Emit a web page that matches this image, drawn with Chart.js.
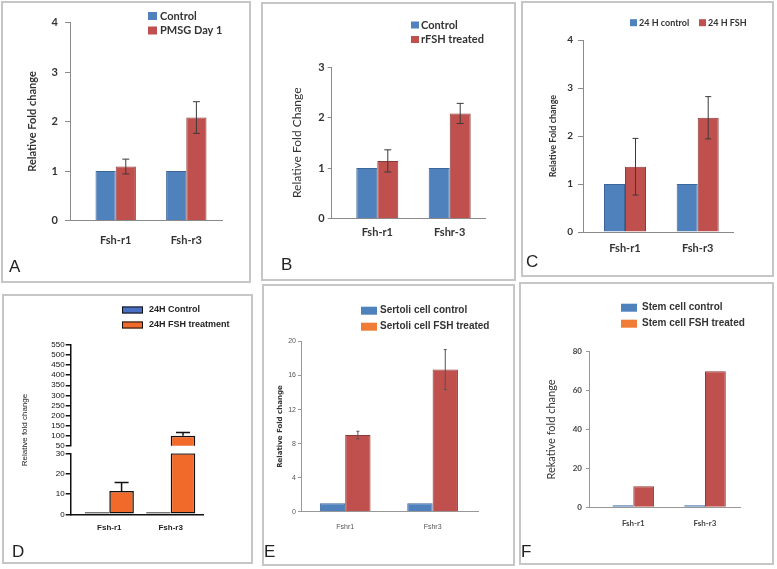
<!DOCTYPE html>
<html>
<head>
<meta charset="utf-8">
<title>Fsh-r1 / Fsh-r3 relative fold change</title>
<script src="https://cdn.jsdelivr.net/npm/chart.js@4.4.1/dist/chart.umd.min.js"></script>
<style>
  html, body { margin: 0; padding: 0; background: #fff; }
  body { position: relative; width: 777px; height: 569px; overflow: hidden; }
  .frame { position: absolute; box-sizing: border-box; border: 2px solid #c6c6c6; }
  canvas { position: absolute; left: 0; top: 0; }
</style>
</head>
<body>
<div class="frame" style="left:1px;top:1px;width:250px;height:282px"></div>
<div class="frame" style="left:261px;top:2px;width:255px;height:279px"></div>
<div class="frame" style="left:521px;top:1px;width:253px;height:276px"></div>
<div class="frame" style="left:2px;top:294px;width:251px;height:270px"></div>
<div class="frame" style="left:262px;top:284px;width:253px;height:282px"></div>
<div class="frame" style="left:519px;top:282px;width:255px;height:283px"></div>
<script>
// categories
const genes = ['Fsh-r1', 'Fsh-r3'];
const genesB = ['Fsh-r1', 'Fshr-3'];
const genesE = ['Fshr1', 'Fshr3'];

// A - PMSG day 1
const controlA = [1, 1];
const pmsgA = [1.09, 2.08];
const pmsgErrA = [0.15, 0.32];
const ticksA = [0, 1, 2, 3, 4];

// B - rFSH treated
const controlB = [1, 1];
const rfshB = [1.14, 2.08];
const rfshErrB = [0.22, 0.2];
const ticksB = [0, 1, 2, 3];

// C - 24 H
const controlC = [1, 1];
const fshC = [1.36, 2.38];
const fshErrC = [0.59, 0.44];
const ticksC = [0, 1, 2, 3, 4];

// D - 24H treatment (broken axis)
const controlD = [1, 1];
const fshD = [11.5, 100];
const fshErrD = [4.1, 15];
const ticksDHigh = [50, 100, 150, 200, 250, 300, 350, 400, 450, 500, 550];
const ticksDLow = [0, 10, 20, 30];

// E - Sertoli cells
const controlE = [1, 1];
const fshE = [9.0, 16.7];
const fshErrE = [0.45, 2.35];
const ticksE = [0, 4, 8, 12, 16, 20];

// F - stem cells
const controlF = [1, 1];
const fshF = [10.8, 70];
const ticksF = [0, 20, 40, 60, 80];

const W = 777, H = 569;
const BLUE = '#4f81bd', BLUE_EDGE = '#3b6698';
const RED = '#c0504d', RED_EDGE = '#8c3a38';
const ORANGE = '#f26a2a', ORANGE_LEG = '#f07c35';

const font = (family, size, weight) => ({ family, size, weight: weight || 'normal' });

function errorBars(cfg) {
  return {
    id: 'errorBars',
    afterDatasetsDraw(chart) {
      if (!cfg) return;
      const { ctx, chartArea: a, scales: { y } } = chart;
      ctx.save();
      ctx.beginPath();
      ctx.rect(a.left, a.top, a.right - a.left, a.bottom - a.top);
      ctx.clip();
      ctx.strokeStyle = cfg.color;
      ctx.lineWidth = cfg.width;
      chart.data.datasets.forEach((ds, di) => {
        if (!ds.errors) return;
        chart.getDatasetMeta(di).data.forEach((bar, i) => {
          const v = ds.values[i], e = ds.errors[i];
          const yTop = y.getPixelForValue(v + e);
          const yBot = y.getPixelForValue(cfg.upOnly ? v : v - e);
          const hw = cfg.cap / 2;
          ctx.beginPath();
          ctx.moveTo(bar.x, yTop); ctx.lineTo(bar.x, yBot);
          ctx.moveTo(bar.x - hw, yTop); ctx.lineTo(bar.x + hw, yTop);
          if (!cfg.upOnly) { ctx.moveTo(bar.x - hw, yBot); ctx.lineTo(bar.x + hw, yBot); }
          ctx.stroke();
        });
      });
      ctx.restore();
    }
  };
}

function extras(o) {
  return {
    id: 'extras',
    afterDraw(chart) {
      const ctx = chart.ctx;
      ctx.save();
      const L = o.legend;
      if (L) {
        ctx.font = L.font;
        ctx.textBaseline = 'middle';
        ctx.textAlign = 'left';
        chart.data.datasets.forEach((ds, i) => {
          const bx = L.xs ? L.xs[i] : L.x;
          const by = L.ys[i];
          ctx.fillStyle = ds.legendColor;
          ctx.fillRect(bx, by - L.h / 2, L.w, L.h);
          if (L.stroke) {
            ctx.strokeStyle = L.stroke;
            ctx.lineWidth = 1;
            ctx.strokeRect(bx + 0.5, by - L.h / 2 + 0.5, L.w - 1, L.h - 1);
          }
          ctx.fillStyle = L.color;
          ctx.fillText(ds.label, bx + L.w + L.gap, by);
        });
      }
      if (o.letter) {
        ctx.font = o.letter.font;
        ctx.fillStyle = '#222';
        ctx.textAlign = 'left';
        ctx.textBaseline = 'alphabetic';
        ctx.fillText(o.letter.text, o.letter.x, o.letter.y);
      }
      if (o.sideTitle) {
        const t = o.sideTitle;
        ctx.translate(t.x, t.y);
        ctx.rotate(-Math.PI / 2);
        ctx.font = t.font;
        ctx.fillStyle = t.color;
        ctx.textAlign = 'center';
        ctx.textBaseline = 'middle';
        ctx.fillText(t.text, 0, 0);
      }
      ctx.restore();
    }
  };
}

function barChart(o) {
  const cv = document.createElement('canvas');
  cv.width = W; cv.height = H;
  document.body.appendChild(cv);
  const p = o.plot;
  const unit = o.c1 - o.c0;
  const xMin = -(o.c0 - p.left) / unit;
  const xMax = 1 + (p.right - o.c1) / unit;
  const yMin = o.yTicks[0], yMax = o.yTicks[o.yTicks.length - 1];
  const xH = o.xLabels ? o.xHeight : 0;
  return new Chart(cv, {
    type: 'bar',
    data: {
      datasets: o.series.map(s => ({
        label: s.label,
        data: s.values.map((v, i) => ({ x: i, y: o.capAtMax ? Math.min(v, yMax) : v })),
        values: s.values,
        errors: s.errors,
        legendColor: s.legendColor || s.color,
        backgroundColor: s.color,
        borderColor: s.border,
        borderWidth: o.barBorder,
        borderSkipped: o.borderSkipped === undefined ? 'start' : o.borderSkipped,
        categoryPercentage: o.catPct,
        barPercentage: 1,
        clip: 0
      }))
    },
    options: {
      responsive: false,
      animation: false,
      events: [],
      layout: { padding: { left: o.yLeft, top: p.top, right: W - p.right, bottom: H - p.bottom - xH } },
      plugins: { legend: { display: false }, tooltip: { enabled: false } },
      scales: {
        x: {
          type: 'linear', min: xMin, max: xMax, bounds: 'data', offset: false,
          display: !!o.xLabels,
          afterBuildTicks: s => { s.ticks = (o.xLabels || []).map((_, i) => ({ value: i })); },
          afterFit: s => { s.height = xH; },
          grid: { display: false, drawTicks: false, offset: false },
          border: { display: true, color: o.axisColor, width: o.axisWidth },
          ticks: {
            padding: o.xPad, font: o.xFont, color: o.xColor, autoSkip: false, maxRotation: 0,
            callback: v => (o.xLabels ? o.xLabels[v] : '')
          }
        },
        y: {
          type: 'linear', min: yMin, max: yMax,
          afterBuildTicks: s => { s.ticks = o.yTicks.map(v => ({ value: v })); },
          afterFit: s => { s.width = p.left - o.yLeft; },
          grid: { drawOnChartArea: false, drawTicks: true, tickLength: o.tickLen, color: o.axisColor, lineWidth: o.axisWidth },
          border: { display: true, color: o.axisColor, width: o.axisWidth },
          ticks: { padding: o.yPad, font: o.yFont, color: o.yColor, autoSkip: false },
          title: { display: !!o.yTitle, text: o.yTitle || '', font: o.yTitleFont, color: o.yTitleColor, padding: 0 }
        }
      }
    },
    plugins: [errorBars(o.err), extras(o)]
  });
}

// A
barChart({
  plot: { left: 70, right: 222, top: 22.5, bottom: 220.5 },
  c0: 115.7, c1: 186.3, catPct: 0.572,
  xLabels: genes, xHeight: 30, xPad: 12.9, xFont: font('Lato', 11, 'bold'), xColor: '#333',
  yTicks: ticksA, yLeft: 25.4, tickLen: 5, yPad: 7, yFont: font('Lato', 11, 'bold'), yColor: '#333',
  yTitle: 'Relative Fold change', yTitleFont: font('Lato', 11, 'bold'), yTitleColor: '#333',
  axisColor: '#8a8a8a', axisWidth: 1, barBorder: 1,
  series: [
    { label: 'Control', values: controlA, color: BLUE, border: BLUE_EDGE },
    { label: 'PMSG Day 1', values: pmsgA, errors: pmsgErrA, color: RED, border: RED_EDGE }
  ],
  err: { color: '#3a3a3a', width: 1, cap: 7 },
  legend: { x: 148, ys: [16, 30.5], w: 9, h: 8, gap: 3, font: 'bold 11px Lato', color: '#333' },
  letter: { text: 'A', x: 9, y: 272, font: "17px 'Liberation Sans'" }
});

// B
barChart({
  plot: { left: 331.7, right: 486, top: 67, bottom: 218.5 },
  c0: 377.3, c1: 449.7, catPct: 0.58,
  xLabels: genesB, xHeight: 30, xPad: 6.9, xFont: font('Lato', 11, 'bold'), xColor: '#333',
  yTicks: ticksB, yLeft: 289.8, tickLen: 4, yPad: 3, yFont: font('Lato', 11, 'bold'), yColor: '#333',
  yTitle: 'Relative Fold Change', yTitleFont: font('Lato', 12), yTitleColor: '#333',
  axisColor: '#8a8a8a', axisWidth: 1, barBorder: 1,
  series: [
    { label: 'Control', values: controlB, color: BLUE, border: BLUE_EDGE },
    { label: 'rFSH treated', values: rfshB, errors: rfshErrB, color: RED, border: RED_EDGE }
  ],
  err: { color: '#3a3a3a', width: 1, cap: 7 },
  legend: { x: 411, ys: [25, 39.5], w: 8, h: 7, gap: 2, font: 'bold 11px Lato', color: '#333' },
  letter: { text: 'B', x: 281, y: 270, font: "17px 'Liberation Sans'" }
});

// C
barChart({
  plot: { left: 583, right: 733.3, top: 40, bottom: 232 },
  c0: 625, c1: 697.7, catPct: 0.578,
  xLabels: genes, xHeight: 30, xPad: 9.4, xFont: font('Lato', 11, 'bold'), xColor: '#333',
  yTicks: ticksC, yLeft: 547.6, tickLen: 5, yPad: 5, yFont: font('Lato', 10, 'bold'), yColor: '#333',
  yTitle: 'Relative Fold change', yTitleFont: font('Lato', 9, 'bold'), yTitleColor: '#333',
  axisColor: '#8a8a8a', axisWidth: 1, barBorder: 1,
  series: [
    { label: '24 H control', values: controlC, color: BLUE, border: BLUE_EDGE },
    { label: '24 H FSH', values: fshC, errors: fshErrC, color: RED, border: RED_EDGE }
  ],
  err: { color: '#3a3a3a', width: 1, cap: 6 },
  legend: { xs: [630, 699], ys: [22.7, 22.7], w: 7, h: 7, gap: 2, font: 'bold 9px Lato', color: '#333' },
  letter: { text: 'C', x: 526, y: 267, font: "17px 'Liberation Sans'" }
});

// D upper part of the broken axis
const dSeries = [
  { label: '24H Control', values: controlD, color: '#4a70c4', border: '#111' },
  { label: '24H FSH treatment', values: fshD, errors: fshErrD, color: ORANGE, border: '#111' }
];
barChart({
  plot: { left: 70.7, right: 203.3, top: 345, bottom: 445.7 },
  c0: 109.3, c1: 170.7, catPct: 0.8,
  yTicks: ticksDHigh, yLeft: 30, tickLen: 5, yPad: 1, yFont: font('Liberation Sans', 8), yColor: '#111',
  axisColor: '#111', axisWidth: 1.5, barBorder: 1.5, borderSkipped: false,
  series: dSeries,
  err: { color: '#111', width: 1.5, cap: 14, upOnly: true },
  legend: { x: 122, ys: [310, 325], w: 21, h: 7, gap: 6, stroke: '#111', font: "bold 9px 'Liberation Sans'", color: '#222' },
  sideTitle: { text: 'Relative fold change', x: 25, y: 430, font: "8px 'Liberation Sans'", color: '#222' },
  letter: { text: 'D', x: 12, y: 557, font: "17px 'Liberation Sans'" }
});
// D lower part
barChart({
  plot: { left: 70.7, right: 203.3, top: 453.3, bottom: 514.3 },
  c0: 109.3, c1: 170.7, catPct: 0.8, capAtMax: true,
  xLabels: genes, xHeight: 25, xPad: 8.9, xFont: font('Liberation Sans', 8, 'bold'), xColor: '#222',
  yTicks: ticksDLow, yLeft: 30, tickLen: 5, yPad: 1, yFont: font('Liberation Sans', 8), yColor: '#111',
  axisColor: '#111', axisWidth: 1.5, barBorder: 1.5, borderSkipped: false,
  series: dSeries,
  err: { color: '#111', width: 1.5, cap: 14, upOnly: true }
});

// E
barChart({
  plot: { left: 301, right: 478, top: 341.5, bottom: 511.7 },
  c0: 345.2, c1: 432.6, catPct: 0.58,
  xLabels: genesE, xHeight: 25, xPad: 11, xFont: font("'Liberation Sans', sans-serif", 7), xColor: '#555',
  yTicks: ticksE, yLeft: 275.8, tickLen: 3, yPad: 2, yFont: font("'Liberation Sans', sans-serif", 7), yColor: '#555',
  yTitle: 'Relative Fold change', yTitleFont: font('DejaVu Sans', 7, 'bold'), yTitleColor: '#333',
  axisColor: '#999', axisWidth: 1, barBorder: 1,
  series: [
    { label: 'Sertoli cell control', values: controlE, color: BLUE, border: BLUE_EDGE },
    { label: 'Sertoli cell FSH treated', values: fshE, errors: fshErrE, color: RED, border: RED_EDGE, legendColor: ORANGE_LEG }
  ],
  err: { color: '#555', width: 1, cap: 3 },
  legend: { x: 361, ys: [310.7, 326.7], w: 16, h: 8, gap: 3, font: "bold 10px 'Liberation Sans'", color: '#333' },
  letter: { text: 'E', x: 264, y: 557, font: "17px 'Liberation Sans'" }
});

// F
barChart({
  plot: { left: 589, right: 740.7, top: 351.7, bottom: 507.3 },
  c0: 633.3, c1: 705, catPct: 0.58,
  xLabels: genes, xHeight: 25, xPad: 10.9, xFont: font('Lato', 8, 'bold'), xColor: '#444',
  yTicks: ticksF, yLeft: 544.4, tickLen: 3, yPad: 4, yFont: font('Lato', 8, 'bold'), yColor: '#444',
  yTitle: 'Rekative fold change', yTitleFont: font('Lato', 11), yTitleColor: '#333',
  axisColor: '#999', axisWidth: 1, barBorder: 1,
  series: [
    { label: 'Stem cell control', values: controlF, color: BLUE, border: BLUE_EDGE },
    { label: 'Stem cell FSH treated', values: fshF, color: RED, border: RED_EDGE, legendColor: ORANGE_LEG }
  ],
  legend: { x: 621, ys: [307.7, 323.7], w: 16, h: 8, gap: 5, font: "bold 10px 'Liberation Sans'", color: '#333' },
  letter: { text: 'F', x: 521, y: 557, font: "17px 'Liberation Sans'" }
});
</script>
</body>
</html>
